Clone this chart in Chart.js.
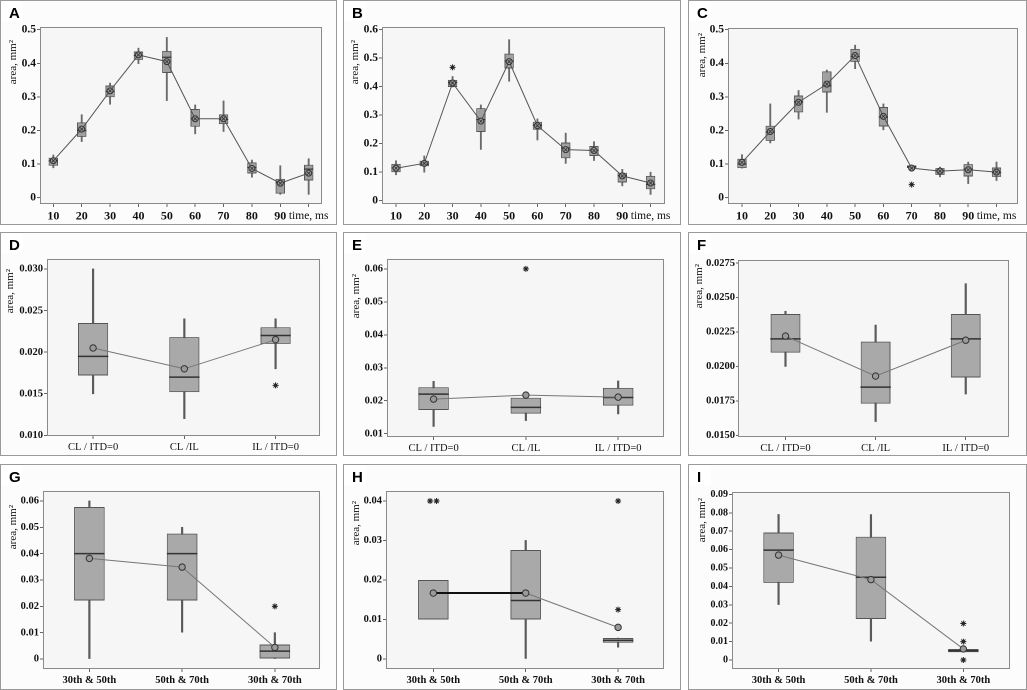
<!DOCTYPE html>
<html><head><meta charset="utf-8">
<script src="https://cdn.jsdelivr.net/npm/chart.js@4"></script>
<style>
html,body{margin:0;padding:0;background:#fff;}
body{width:1027px;height:690px;position:relative;overflow:hidden;}
.panel{position:absolute;}
.panel canvas{display:block;}
</style></head><body>
<script>
// ---------- labels ----------
const timeLabels = ["10","20","30","40","50","60","70","80","90","time, ms"];
const condLabels = ["CL / ITD=0","CL /IL","IL / ITD=0"];
const pairLabels = ["30th & 50th","50th & 70th","30th & 70th"];
const yTicksA = ["0","0.1","0.2","0.3","0.4","0.5"];
const yTicksB = ["0","0.1","0.2","0.3","0.4","0.5","0.6"];
const yTicksC = ["0","0.1","0.2","0.3","0.4","0.5"];
const yTicksD = ["0.010","0.015","0.020","0.025","0.030"];
const yTicksE = ["0.01","0.02","0.03","0.04","0.05","0.06"];
const yTicksF = ["0.0150","0.0175","0.0200","0.0225","0.0250","0.0275"];
const yTicksG = ["0","0.01","0.02","0.03","0.04","0.05","0.06"];
const yTicksH = ["0","0.01","0.02","0.03","0.04"];
const yTicksI = ["0","0.01","0.02","0.03","0.04","0.05","0.06","0.07","0.08","0.09"];

// ---------- A ----------
const aQ1   = [0.095,0.181,0.299,0.410,0.371,0.211,0.219,0.072,0.012,0.051];
const aMed  = [0.110,0.200,0.316,0.423,0.418,0.235,0.233,0.090,0.045,0.085];
const aQ3   = [0.119,0.224,0.334,0.435,0.437,0.264,0.248,0.105,0.056,0.098];
const aLow  = [0.089,0.167,0.278,0.399,0.289,0.190,0.197,0.061,0.010,0.010];
const aHigh = [0.127,0.247,0.341,0.445,0.477,0.276,0.288,0.112,0.095,0.116];
const aMean = [0.110,0.204,0.318,0.425,0.405,0.235,0.235,0.087,0.043,0.073];
const aOut  = [];
// ---------- B ----------
const bQ1   = [0.100,0.121,0.399,0.241,0.464,0.249,0.149,0.157,0.064,0.040];
const bMed  = [0.115,0.128,0.415,0.285,0.490,0.265,0.185,0.177,0.088,0.057];
const bQ3   = [0.129,0.140,0.424,0.325,0.516,0.277,0.204,0.192,0.098,0.087];
const bLow  = [0.091,0.100,0.399,0.180,0.419,0.213,0.131,0.141,0.052,0.022];
const bHigh = [0.140,0.157,0.436,0.336,0.565,0.287,0.237,0.207,0.110,0.100];
const bMean = [0.114,0.131,0.413,0.279,0.488,0.263,0.179,0.176,0.087,0.062];
const bOut  = [[2,0.468]];
// ---------- C ----------
const cQ1   = [0.088,0.169,0.254,0.313,0.404,0.212,0.088,0.068,0.063,0.062];
const cMed  = [0.100,0.195,0.285,0.333,0.420,0.240,0.092,0.080,0.085,0.075];
const cQ3   = [0.116,0.214,0.304,0.376,0.443,0.270,0.096,0.088,0.100,0.090];
const cLow  = [0.088,0.163,0.234,0.254,0.384,0.202,0.086,0.062,0.042,0.051];
const cHigh = [0.128,0.279,0.319,0.380,0.454,0.279,0.097,0.091,0.106,0.106];
const cMean = [0.105,0.197,0.284,0.338,0.423,0.242,0.088,0.079,0.083,0.076];
const cOut  = [[6,0.039]];
// ---------- D ----------
const dQ1   = [0.0172,0.0152,0.0210];
const dMed  = [0.0195,0.0170,0.0220];
const dQ3   = [0.0235,0.0218,0.0230];
const dLow  = [0.0150,0.0120,0.0180];
const dHigh = [0.0300,0.0240,0.0240];
const dMean = [0.0205,0.0180,0.0215];
const dOut  = [[2,0.0160]];
// ---------- E ----------
const eQ1   = [0.0172,0.0161,0.0185];
const eMed  = [0.0220,0.0180,0.0210];
const eQ3   = [0.0241,0.0209,0.0239];
const eLow  = [0.0122,0.0140,0.0160];
const eHigh = [0.0259,0.0222,0.0260];
const eMean = [0.0205,0.0217,0.0211];
const eOut  = [[1,0.060]];
// ---------- F ----------
const fQ1   = [0.0210,0.0173,0.0192];
const fMed  = [0.0220,0.0185,0.0220];
const fQ3   = [0.0238,0.0218,0.0238];
const fLow  = [0.0200,0.0160,0.0180];
const fHigh = [0.0240,0.0230,0.0260];
const fMean = [0.0222,0.0193,0.0219];
const fOut  = [];
// ---------- G ----------
const gQ1   = [0.0222,0.0222,0.0000];
const gMed  = [0.0400,0.0400,0.0030];
const gQ3   = [0.0577,0.0476,0.0055];
const gLow  = [0.0000,0.0102,0.0000];
const gHigh = [0.0600,0.0500,0.0100];
const gMean = [0.0382,0.0349,0.0044];
const gOut  = [[2,0.0200]];
// ---------- H ----------
const hQ1   = [0.0100,0.0100,0.0041];
const hMed  = [null,0.0148,0.0047];
const hQ3   = [0.0200,0.0276,0.0053];
const hLow  = [null,0.0000,0.0030];
const hHigh = [null,0.0300,0.0053];
const hMean = [0.0167,0.0167,0.0080];
const hOut  = [[-0.035,0.040],[0.035,0.040],[2,0.040],[2,0.0125]];
// ---------- I ----------
const iQ1   = [0.0419,0.0223,0.0042];
const iMed  = [0.0597,0.0450,0.0050];
const iQ3   = [0.0693,0.0670,0.0060];
const iLow  = [0.0301,0.0102,null];
const iHigh = [0.0791,0.0790,null];
const iMean = [0.0570,0.0437,0.0060];
const iOut  = [[2,0.0198],[2,0.0100],[2,0.0000]];

// ---------- panel layout / style ----------
const panels = [
 {L:'A',x:0,  y:0,  w:337,h:225,yw:40,pt:27,pr:15,xh:21,xr:[-0.47,9.47], yr:[-0.0188,0.508], lab:timeLabels,yt:yTicksA,q1:aQ1,med:aMed,q3:aQ3,low:aLow,high:aHigh,mean:aMean,out:aOut,row:1,tx:13,ty:13,yf:11.5,tl:3},
 {L:'B',x:343,y:0,  w:338,h:225,yw:39,pt:27,pr:16,xh:21,xr:[-0.495,9.51],yr:[-0.0116,0.6095],lab:timeLabels,yt:yTicksB,q1:bQ1,med:bMed,q3:bQ3,low:bLow,high:bHigh,mean:bMean,out:bOut,row:1,tx:12,ty:13,yf:11.5,tl:3},
 {L:'C',x:688,y:0,  w:339,h:225,yw:40,pt:28,pr:9, xh:21,xr:[-0.495,9.76],yr:[-0.0188,0.505], lab:timeLabels,yt:yTicksC,q1:cQ1,med:cMed,q3:cQ3,low:cLow,high:cHigh,mean:cMean,out:cOut,row:1,tx:14,ty:5,yf:11.5,tl:3},
 {L:'D',x:0,  y:232,w:337,h:224,yw:47,pt:27,pr:15,xh:20,xr:[-0.505,2.49],yr:[0.00992,0.0312],lab:condLabels,yt:yTicksD,q1:dQ1,med:dMed,q3:dQ3,low:dLow,high:dHigh,mean:dMean,out:dOut,row:2,tx:10,ty:10,yf:10.5,tl:3},
 {L:'E',x:343,y:232,w:338,h:224,yw:44,pt:27,pr:16,xh:19,xr:[-0.505,2.50],yr:[0.0090,0.0630],lab:condLabels,yt:yTicksE,q1:eQ1,med:eMed,q3:eQ3,low:eLow,high:eHigh,mean:eMean,out:eOut,row:2,tx:13,ty:15,yf:10.5,tl:3},
 {L:'F',x:688,y:232,w:339,h:224,yw:50,pt:28,pr:18,xh:19,xr:[-0.527,2.48],yr:[0.01488,0.02772],lab:condLabels,yt:yTicksF,q1:fQ1,med:fMed,q3:fQ3,low:fLow,high:fHigh,mean:fMean,out:fOut,row:2,tx:11,ty:4,yf:10.5,tl:2},
 {L:'G',x:0,  y:464,w:337,h:226,yw:43,pt:27,pr:15,xh:21,xr:[-0.50,2.49], yr:[-0.0038,0.0638],lab:pairLabels,yt:yTicksG,q1:gQ1,med:gMed,q3:gQ3,low:gLow,high:gHigh,mean:gMean,out:gOut,row:3,tx:13,ty:14,yf:10.5,tl:3},
 {L:'H',x:343,y:464,w:338,h:226,yw:43,pt:27,pr:16,xh:21,xr:[-0.512,2.50],yr:[-0.00254,0.04254],lab:pairLabels,yt:yTicksH,q1:hQ1,med:hMed,q3:hQ3,low:hLow,high:hHigh,mean:hMean,out:hOut,row:3,tx:13,ty:10,yf:10.5,tl:3,segW:[2,1],segC:['#111','#777']},
 {L:'I',x:688,y:464,w:339,h:226,yw:44,pt:28,pr:17,xh:21,xr:[-0.504,2.505],yr:[-0.0049,0.0913],lab:pairLabels,yt:yTicksI,q1:iQ1,med:iMed,q3:iQ3,low:iLow,high:iHigh,mean:iMean,out:iOut,row:3,tx:14,ty:6,yf:10,tl:3}
];

const framePlugin = {
  id:'frame',
  beforeDraw(chart, args, o){
    const {ctx, chartArea:a} = chart;
    ctx.save();
    ctx.fillStyle='#fcfcfc'; ctx.fillRect(0,0,chart.width,chart.height);
    ctx.fillStyle='#f6f6f6'; ctx.fillRect(a.left,a.top,a.right-a.left,a.bottom-a.top);
    ctx.restore();
  },
  afterDraw(chart, args, o){
    const {ctx, chartArea:a} = chart;
    ctx.save();
    ctx.strokeStyle='#8a8a8a'; ctx.lineWidth=1;
    ctx.strokeRect(Math.round(a.left)+0.5, Math.round(a.top)+0.5, Math.round(a.right-a.left)-1, Math.round(a.bottom-a.top)-1);
    ctx.strokeStyle='#9a9a9a';
    ctx.strokeRect(0.5,0.5,chart.width-1,chart.height-1);
    ctx.fillStyle='#fff'; ctx.fillRect(1,1,22,20);
    ctx.fillStyle='#000'; ctx.font='bold 15px "Liberation Sans", Arial, sans-serif';
    ctx.textBaseline='alphabetic'; ctx.textAlign='left';
    ctx.fillText(o.letter, 9, 18);
    ctx.translate(o.tx, a.top + o.ty);
    ctx.rotate(-Math.PI/2);
    ctx.textAlign='right'; ctx.textBaseline='middle';
    ctx.fillStyle='#111';
    ctx.font='11px "Liberation Serif", "DejaVu Serif", serif';
    ctx.fillText('area, mm\u00B2', 0, 0);
    ctx.restore();
  }
};

function makePanel(p){
  const wrap=document.createElement('div');
  wrap.className='panel';
  wrap.style.left=p.x+'px'; wrap.style.top=p.y+'px';
  wrap.style.width=p.w+'px'; wrap.style.height=p.h+'px';
  const cv=document.createElement('canvas');
  wrap.appendChild(cv); document.body.appendChild(wrap);
  const n=p.lab.length, idx=[...Array(n).keys()];
  const whisk=idx.filter(i=>p.low[i]!=null).map(i=>({x:i,y:[p.low[i],p.high[i]]}));
  const boxes=idx.map(i=>({x:i,y:[p.q1[i],p.q3[i]]}));
  const meds=idx.filter(i=>p.med[i]!=null).map(i=>({x:i,y:p.med[i]}));
  const means=idx.map(i=>({x:i,y:p.mean[i]}));
  const outs=p.out.map(o=>({x:o[0],y:o[1]}));
  const row1=p.row===1;
  const yVals=p.yt.map(s=>parseFloat(s));
  const serif='"Liberation Serif", "DejaVu Serif", serif';
  const xFontSize=row1?12:10.5;
  const datasets=[
      {type:'bar',data:whisk,backgroundColor:row1?'#6a6a6a':'#5a5a5a',barThickness:row1?1.2:1.5,grouped:false,order:6},
      {type:'bar',data:boxes,backgroundColor:row1?'#a0a0a0':'#a9a9a9',borderColor:'#555',borderWidth:1,borderSkipped:false,grouped:false,barPercentage:0.33,categoryPercentage:1,order:5},
      {type:'scatter',data:meds,pointStyle:'line',pointRadius:row1?4.6:15.2,pointHoverRadius:0,borderColor:'#333',pointBorderColor:'#333',pointBorderWidth:row1?1.2:1.5,borderWidth:row1?1.2:1.5,order:4},
      {type:'line',data:means,borderColor:row1?'#555':'#777',borderWidth:1,pointRadius:row1?3:3.2,pointBackgroundColor:'#9a9a9a',pointBorderColor:'#333',pointBorderWidth:1,tension:0,order:3,
        segment:p.segW?{borderWidth:c=>p.segW[c.p0DataIndex],borderColor:c=>p.segC[c.p0DataIndex]}:undefined},
      {type:'scatter',data:outs,pointStyle:'star',pointRadius:3,borderColor:'#222',pointBorderColor:'#222',pointBorderWidth:1,order:1}
  ];
  if(row1){
    datasets.push({type:'scatter',data:means,pointStyle:'crossRot',pointRadius:2.2,borderColor:'#333',pointBorderColor:'#333',pointBorderWidth:0.8,order:2});
  }
  new Chart(cv,{
    type:'bar',
    data:{datasets},
    options:{
      responsive:true,maintainAspectRatio:false,animation:false,devicePixelRatio:2,
      layout:{padding:{left:0,top:p.pt,right:p.pr,bottom:0}},
      plugins:{legend:{display:false},tooltip:{enabled:false},frame:{letter:p.L,tx:p.tx,ty:p.ty}},
      events:[],
      scales:{
        x:{type:'linear',min:p.xr[0],max:p.xr[1],offset:false,
          afterBuildTicks:ax=>{ax.ticks=idx.map(i=>({value:i}));},
          afterFit:s=>{s.height=p.xh;},
          grid:{drawOnChartArea:false,drawTicks:true,tickLength:3,color:'#666',offset:false},
          border:{display:false},
          ticks:{autoSkip:false,maxRotation:0,padding:2,color:'#111',
            callback:v=>p.lab[Math.round(v)],
            font:c=>{const lbl=p.lab[c.index];const normal=(lbl==='time, ms')||p.row===2;
              return {family:serif,size:lbl==='time, ms'?11.5:xFontSize,weight:normal?'normal':'bold'};}}
        },
        y:{type:'linear',min:p.yr[0],max:p.yr[1],
          afterBuildTicks:ax=>{ax.ticks=yVals.map(v=>({value:v}));},
          afterFit:s=>{s.width=p.yw;},
          grid:{drawOnChartArea:false,drawTicks:true,tickLength:p.tl,color:'#666'},
          border:{display:false},
          ticks:{autoSkip:false,padding:1,color:'#111',
            callback:(v,i)=>p.yt[i],
            font:{family:serif,size:p.yf,weight:'bold'}}
        }
      }
    },
    plugins:[framePlugin]
  });
}
panels.forEach(makePanel);
</script>
</body></html>
